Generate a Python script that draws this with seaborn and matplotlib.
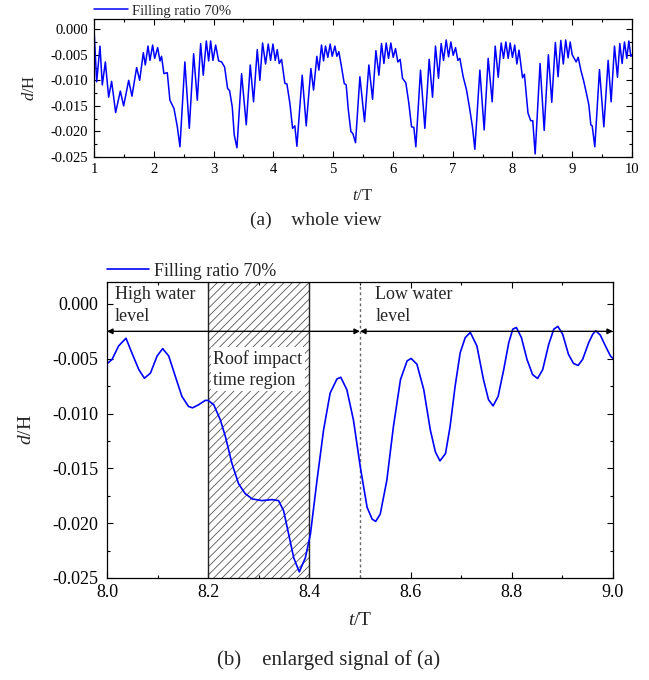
import matplotlib
matplotlib.use("Agg")
import matplotlib.pyplot as plt
import seaborn as sns
import pandas as pd
from matplotlib.ticker import MultipleLocator, FormatStrFormatter, FuncFormatter

# ---------------- data ----------------
t_whole = [1.000, 1.045, 1.100, 1.139, 1.190, 1.245, 1.295, 1.362, 1.440, 1.496, 1.580, 1.635, 1.713, 1.764, 1.825, 1.858, 1.903, 1.936, 1.981,
           2.015, 2.065, 2.104, 2.130, 2.170, 2.226, 2.270, 2.338, 2.394, 2.438, 2.520, 2.594, 2.667, 2.728, 2.784, 2.828, 2.879, 2.918, 2.951, 2.990,
           3.035, 3.085, 3.135, 3.185, 3.235, 3.268, 3.313, 3.346, 3.391, 3.469, 3.547, 3.614, 3.669, 3.731, 3.775, 3.820, 3.870, 3.915, 3.954, 3.993,
           4.032, 4.065, 4.099, 4.138, 4.193, 4.227, 4.277, 4.322, 4.360, 4.394, 4.483, 4.550, 4.628, 4.673, 4.728, 4.762, 4.806, 4.840, 4.873, 4.912, 4.951, 4.985,
           5.030, 5.063, 5.096, 5.141, 5.186, 5.219, 5.252, 5.297, 5.330, 5.375, 5.448, 5.526, 5.598, 5.660, 5.716, 5.766, 5.810, 5.850, 5.888, 5.927, 5.966,
           6.005, 6.044, 6.083, 6.122, 6.161, 6.217, 6.267, 6.312, 6.351, 6.384, 6.462, 6.535, 6.607, 6.663, 6.713, 6.763, 6.808, 6.847, 6.892, 6.931, 6.970,
           7.009, 7.048, 7.087, 7.120, 7.176, 7.232, 7.288, 7.332, 7.371, 7.455, 7.527, 7.594, 7.661, 7.712, 7.762, 7.812, 7.851, 7.890, 7.929, 7.962,
           8.000, 8.038, 8.074, 8.110, 8.169, 8.200, 8.260, 8.306, 8.340, 8.380, 8.462, 8.531, 8.601, 8.658, 8.718, 8.763, 8.809, 8.851, 8.891, 8.931, 8.966,
           9.000, 9.066, 9.100, 9.144, 9.189, 9.239, 9.278, 9.311, 9.334, 9.378, 9.456, 9.529, 9.601, 9.651, 9.707, 9.757, 9.796, 9.835, 9.874, 9.913, 9.947, 9.980, 10.000]
d_whole = [0.0000, -0.0103, -0.0033, -0.0109, -0.0064, -0.0133, -0.0102, -0.0163, -0.0121, -0.0150, -0.0100, -0.0131, -0.0075, -0.0100, -0.0046, -0.0070, -0.0033, -0.0061, -0.0031,
           -0.0057, -0.0036, -0.0062, -0.0053, -0.0087, -0.0085, -0.0139, -0.0155, -0.0191, -0.0230, -0.0064, -0.0194, -0.0048, -0.0139, -0.0028, -0.0090, -0.0023, -0.0062, -0.0023, -0.0061,
           -0.0031, -0.0062, -0.0064, -0.0074, -0.0116, -0.0120, -0.0152, -0.0207, -0.0232, -0.0087, -0.0187, -0.0070, -0.0142, -0.0040, -0.0100, -0.0027, -0.0068, -0.0029, -0.0061, -0.0029,
           -0.0061, -0.0040, -0.0067, -0.0059, -0.0106, -0.0107, -0.0145, -0.0194, -0.0189, -0.0229, -0.0090, -0.0189, -0.0077, -0.0119, -0.0053, -0.0080, -0.0031, -0.0062, -0.0033, -0.0055, -0.0029, -0.0053,
           -0.0033, -0.0053, -0.0044, -0.0074, -0.0106, -0.0109, -0.0155, -0.0200, -0.0204, -0.0222, -0.0093, -0.0181, -0.0070, -0.0137, -0.0042, -0.0090, -0.0028, -0.0067, -0.0027, -0.0057, -0.0027,
           -0.0055, -0.0038, -0.0064, -0.0059, -0.0096, -0.0105, -0.0145, -0.0191, -0.0192, -0.0230, -0.0080, -0.0194, -0.0059, -0.0133, -0.0033, -0.0096, -0.0028, -0.0061, -0.0021, -0.0054, -0.0025,
           -0.0051, -0.0036, -0.0061, -0.0057, -0.0093, -0.0119, -0.0158, -0.0192, -0.0235, -0.0080, -0.0197, -0.0057, -0.0142, -0.0033, -0.0094, -0.0027, -0.0057, -0.0025, -0.0057, -0.0027,
           -0.0055, -0.0031, -0.0068, -0.0041, -0.0095, -0.0088, -0.0164, -0.0179, -0.0179, -0.0244, -0.0067, -0.0198, -0.0050, -0.0143, -0.0026, -0.0093, -0.0022, -0.0068, -0.0021, -0.0056, -0.0025,
           -0.0050, -0.0064, -0.0055, -0.0080, -0.0100, -0.0126, -0.0148, -0.0187, -0.0189, -0.0230, -0.0079, -0.0191, -0.0061, -0.0142, -0.0033, -0.0094, -0.0028, -0.0067, -0.0025, -0.0057, -0.0023, -0.0053, -0.0050]

t_zoom = [8.000, 8.010, 8.023, 8.0375, 8.049, 8.063, 8.074, 8.086, 8.099, 8.110, 8.122, 8.135, 8.148, 8.161, 8.169, 8.181, 8.194, 8.200, 8.211, 8.224,
          8.234, 8.247, 8.260, 8.273, 8.287, 8.306, 8.326, 8.339, 8.349, 8.359, 8.369, 8.380, 8.392, 8.402, 8.415, 8.428, 8.441, 8.4545, 8.462, 8.474,
          8.487, 8.5006, 8.514, 8.524, 8.531, 8.540, 8.553, 8.566, 8.580, 8.593, 8.601, 8.6125, 8.626, 8.639, 8.649, 8.658, 8.669, 8.678, 8.688, 8.698,
          8.708, 8.718, 8.731, 8.744, 8.754, 8.763, 8.773, 8.784, 8.794, 8.802, 8.809, 8.819, 8.830, 8.841, 8.851, 8.861, 8.873, 8.883, 8.891, 8.9005,
          8.912, 8.922, 8.931, 8.940, 8.952, 8.960, 8.966, 8.975, 8.985, 8.995, 9.000]
d_zoom = [-0.00546, -0.00506, -0.00383, -0.00313, -0.00445, -0.00600, -0.00678, -0.00630, -0.00475, -0.00408, -0.00475, -0.00660, -0.00843, -0.00935, -0.00948, -0.00920, -0.00880, -0.00880, -0.00920, -0.01058,
          -0.01210, -0.01457, -0.01640, -0.01730, -0.01779, -0.01794, -0.01785, -0.01794, -0.01886, -0.02100, -0.02316, -0.02444, -0.02316, -0.02100, -0.01610, -0.01150, -0.00813, -0.00684, -0.00669, -0.00782,
          -0.01058, -0.01487, -0.01855, -0.01963, -0.01984, -0.01917, -0.01610, -0.01120, -0.00690, -0.00520, -0.00497, -0.00550, -0.00782, -0.01150, -0.01350, -0.01432, -0.01365, -0.01120, -0.00750, -0.00445,
          -0.00307, -0.00260, -0.00383, -0.00690, -0.00874, -0.00930, -0.00843, -0.00600, -0.00353, -0.00230, -0.00215, -0.00307, -0.00506, -0.00644, -0.00680, -0.00600, -0.00368, -0.00230, -0.00205, -0.00276,
          -0.00460, -0.00543, -0.00561, -0.00506, -0.00353, -0.00276, -0.00245, -0.00285, -0.00383, -0.00475, -0.00497]

series_label = "Filling ratio 70%"
caption_a = "(a)    whole view"
caption_b = "(b)    enlarged signal of (a)"
impact_region = [8.2, 8.4]
level_split = 8.5

# ---------------- style ----------------
sns.set_style("ticks")
plt.rcParams["font.family"] = ["Liberation Serif", "DejaVu Serif"]
plt.rcParams["mathtext.fontset"] = "custom"
plt.rcParams["mathtext.it"] = "Liberation Serif:italic"
plt.rcParams["mathtext.rm"] = "Liberation Serif"
plt.rcParams["axes.unicode_minus"] = False
plt.rcParams["hatch.linewidth"] = 0.6
plt.rcParams["hatch.color"] = "#555555"

W, H = 649, 680
fig = plt.figure(figsize=(W / 100, H / 100), dpi=100)

def px_axes(l, t, r, b):
    return fig.add_axes([l / W, 1 - b / H, (r - l) / W, (b - t) / H])

ax1 = px_axes(94, 19, 632, 157)
ax2 = px_axes(107, 282, 613, 578)

df1 = pd.DataFrame({"t": t_whole, "d": d_whole})
df2 = pd.DataFrame({"t": t_zoom, "d": d_zoom})

sns.lineplot(data=df1, x="t", y="d", ax=ax1, color="#0000ff", lw=1.1,
             sort=False, estimator=None, label=series_label)
sns.lineplot(data=df2, x="t", y="d", ax=ax2, color="#0000ff", lw=1.2,
             sort=False, estimator=None, label=series_label)

yfmt = FuncFormatter(lambda v, p: ("%.3f" % v).replace("-0.000", "0.000"))

def style_axis(ax, fs, padx, pady):
    for s in ax.spines.values():
        s.set_visible(True)
        s.set_color("black")
        s.set_linewidth(0.9)
    ax.tick_params(which="both", direction="in", top=True, right=True,
                   labelsize=fs, colors="black", width=0.8)
    ax.tick_params(which="major", length=4)
    ax.tick_params(which="minor", length=2.5)
    ax.tick_params(axis="x", which="major", pad=padx)
    ax.tick_params(axis="y", which="major", pad=pady)
    ax.yaxis.set_major_formatter(yfmt)
    ax.grid(False)

# top axes
ax1.set_xlim(1, 10)
ax1.set_ylim(-0.025, 0.002)
ax1.xaxis.set_major_locator(MultipleLocator(1))
ax1.xaxis.set_minor_locator(MultipleLocator(0.5))
ax1.yaxis.set_major_locator(MultipleLocator(0.005))
ax1.yaxis.set_minor_locator(MultipleLocator(0.0025))
style_axis(ax1, 10.5, 4, 4)
ax1.set_xlabel("$t$/T", fontsize=12)
ax1.set_ylabel("$d$/H", fontsize=12)
ax1.xaxis.set_label_coords(0.5, -0.225)
ax1.yaxis.set_label_coords(-0.104, 0.5)
ax1.legend(loc="center left", bbox_to_anchor=(0.0, 1.058), frameon=False,
           fontsize=10.5, handlelength=2.3, handletextpad=0.3,
           borderpad=0, borderaxespad=0)

# bottom axes
ax2.set_xlim(8.0, 9.0)
ax2.set_ylim(-0.025, 0.002)
ax2.xaxis.set_major_locator(MultipleLocator(0.2))
ax2.xaxis.set_minor_locator(MultipleLocator(0.1))
ax2.xaxis.set_major_formatter(FormatStrFormatter("%.1f"))
ax2.yaxis.set_major_locator(MultipleLocator(0.005))
ax2.yaxis.set_minor_locator(MultipleLocator(0.0025))
style_axis(ax2, 13, 4, 6)
ax2.set_xlabel("$t$/T", fontsize=14)
ax2.set_ylabel("$d$/H", fontsize=14)
ax2.xaxis.set_label_coords(0.5, -0.115)
ax2.yaxis.set_label_coords(-0.142, 0.5)
ax2.legend(loc="center left", bbox_to_anchor=(0.0, 1.037), frameon=False,
           fontsize=13, handlelength=2.3, handletextpad=0.3,
           borderpad=0, borderaxespad=0)

# hatched impact region
ax2.axvspan(impact_region[0], impact_region[1], facecolor="none",
            edgecolor="#555555", hatch="////", linewidth=0, zorder=0)
for xv in impact_region:
    ax2.axvline(xv, color="#222222", lw=1.0, zorder=1)
ax2.axvline(level_split, color="#666666", lw=1.0, ls=(0, (2, 2)), zorder=1)

# arrows
arrow_y = -0.0025
ax2.annotate("", xy=(8.0, arrow_y), xytext=(level_split, arrow_y),
             arrowprops=dict(arrowstyle="<|-|>", color="black", lw=1.0,
                             mutation_scale=8, shrinkA=0, shrinkB=0))
ax2.annotate("", xy=(level_split, arrow_y), xytext=(9.0, arrow_y),
             arrowprops=dict(arrowstyle="<|-|>", color="black", lw=1.0,
                             mutation_scale=8, shrinkA=0, shrinkB=0))

ax2.text(8.016, 0.0016, "High water\nlevel", fontsize=13, va="top", ha="left",
         linespacing=1.35, zorder=3)
ax2.text(8.53, 0.0016, "Low water\nlevel", fontsize=13, va="top", ha="left",
         linespacing=1.35, zorder=3)
ax2.text(8.21, -0.0042, "Roof impact\ntime region", fontsize=13, va="top", ha="left",
         linespacing=1.3, zorder=3,
         bbox=dict(facecolor="white", edgecolor="none", pad=2))

fig.text(316 / W, 1 - 220 / H, caption_a, fontsize=14, ha="center", va="center")
fig.text(329 / W, 1 - 660 / H, caption_b, fontsize=15, ha="center", va="center")

fig.savefig("out.png", dpi=100)
